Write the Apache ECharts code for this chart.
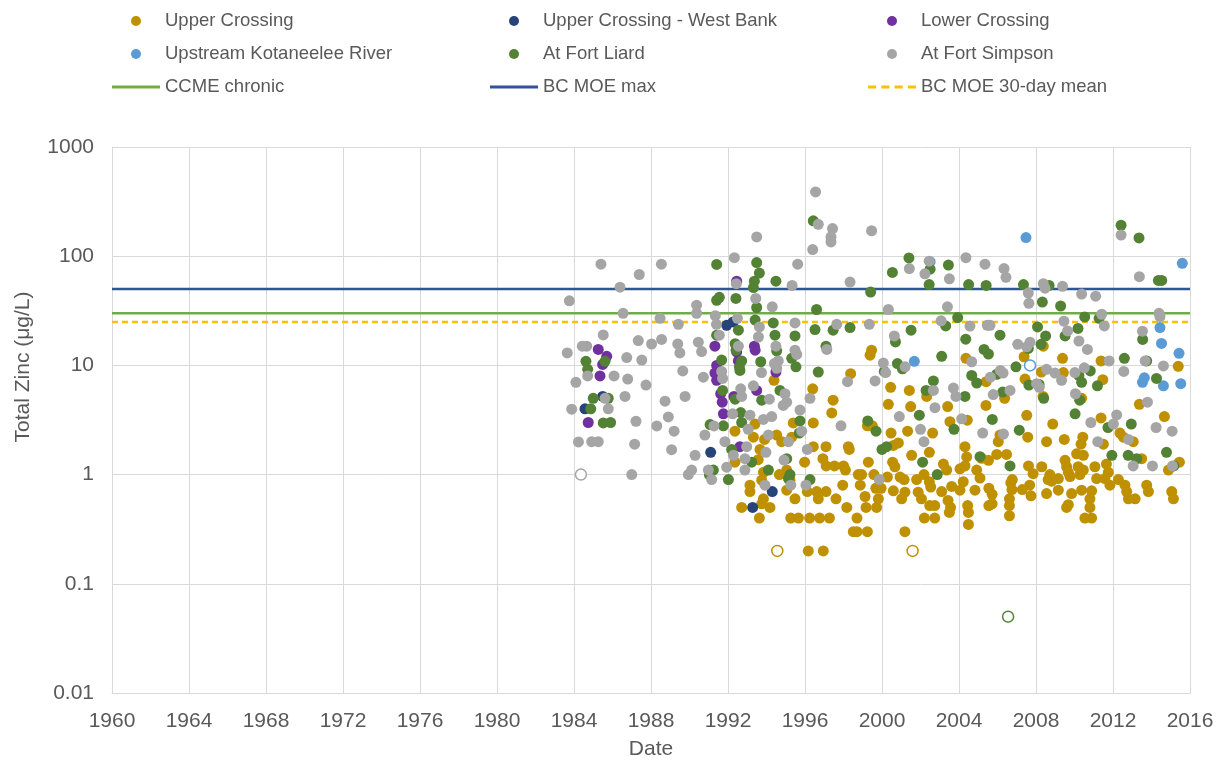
<!DOCTYPE html>
<html><head><meta charset="utf-8">
<script src="https://cdn.jsdelivr.net/npm/echarts@6/dist/echarts.min.js"></script>
<style>html,body{margin:0;padding:0;background:#fff}#c{width:1221px;height:760px}</style>
</head><body><div id="c"></div>
<script>
// ---- data: [year, total zinc µg/L] ----
const xTicks = [1960,1964,1968,1972,1976,1980,1984,1988,1992,1996,2000,2004,2008,2012,2016];
const yTicks = [0.01,0.1,1,10,100,1000];
const ccmeChronic = 30;
const bcMoeMax = 50;
const bcMoe30day = 25;

const upperCrossing = [
[1999.46,13.8],[1999.38,12.4],[1998.37,8.4],[1994.39,7.3],[1996.4,6.1],[1997.46,4.8],
[1997.39,3.67],[1996.43,2.97],[1995.39,2.97],[1993.4,2.9],[1992.36,2.5],[1993.32,2.2],[1994.53,2.3],[1994.79,2.0],[1995.31,2.2],[1993.9,2.1],[1996.43,1.8],[1997.09,1.8],[1998.25,1.8],[1998.3,1.7],[1995.98,1.3],[1996.93,1.4],[1997.1,1.2],[1997.53,1.2],[1998.0,1.2],[1998.1,1.1],[1999.29,1.3],[1998.77,1.0],[1998.94,1.0],[1999.58,1.0],[1993.66,1.7],[1993.57,1.37],[1992.36,1.3],[1995.05,1.1],[1994.67,1.0],[1995.22,0.89],[1995.05,0.72],[1995.48,0.6],[1993.84,1.05],[1993.75,0.89],[1993.14,0.8],[1993.14,0.7],[1993.84,0.6],[1993.75,0.54],[1994.18,0.5],[1992.71,0.5],[1993.63,0.4],[1995.26,0.4],[1995.66,0.4],[1996.24,0.4],[1996.76,0.4],[1997.27,0.4],[1996.12,0.7],[1996.61,0.7],[1997.09,0.7],[1996.69,0.6],[1997.61,0.6],[1998.17,0.5],[1997.96,0.8],[1998.7,0.4],[1998.51,0.3],[1998.7,0.3],[1999.24,0.3],[1998.87,0.8],[1999.12,0.63],[1999.17,0.5],[1999.72,0.5],[1999.81,0.6],[1999.68,0.75],[1999.24,2.8],[1999.5,2.8],[1996.17,0.2],[1996.95,0.2],
[2004.36,11.6],[2007.38,12],[2008.28,8.7],[2007.43,7.5],[2000.45,6.3],[2001.42,5.9],[2005.41,7.1],[2002.32,5.2],[2006.37,5.0],[2008.37,5.2],
[2000.33,4.4],[2001.49,4.2],[2003.41,4.2],[2005.4,4.3],[2007.52,3.49],[2003.53,3.05],[2004.43,3.15],[2000.47,2.4],[2001.33,2.5],[2002.63,2.4],[2000.59,1.85],[2000.85,1.95],[2001.54,1.5],[2002.46,1.6],[2004.31,1.8],[2004.4,1.45],[2006.04,2.0],[2006.13,2.3],[2007.57,2.2],[2008.55,2.0],[2000.55,1.3],[2000.67,1.18],[2005.18,1.41],[2005.53,1.35],[2005.96,1.53],[2006.47,1.53],[2007.61,1.2],[2008.3,1.18],[2003.19,1.25],[2003.36,1.1],[2004.05,1.13],[2004.31,1.2],[2004.92,1.1],[2005.09,0.93],[2000.28,0.95],[2000.94,0.95],[2001.15,0.9],[2001.8,0.9],[2002.18,1.0],[2002.46,0.86],[2002.53,0.77],[2003.1,0.7],[2003.62,0.78],[2004.05,0.72],[2004.22,0.86],[2004.83,0.72],[2005.55,0.75],[2005.72,0.66],[2006.69,0.84],[2006.77,0.9],[2007.67,0.8],[2007.85,1.02],[2007.29,0.73],[2007.74,0.64],[2008.55,0.67],[1999.95,0.75],[2000.59,0.71],[2001.02,0.6],[2001.19,0.69],[2001.88,0.69],[2002.05,0.6],[2002.48,0.52],[2002.74,0.52],[2002.2,0.4],[2002.74,0.4],[2003.43,0.58],[2003.56,0.5],[2003.5,0.45],[2004.45,0.52],[2004.49,0.45],[2004.49,0.35],[2005.72,0.54],[2005.55,0.52],[2006.62,0.6],[2006.62,0.52],[2006.62,0.42],[2006.75,0.73],[2001.19,0.3],
[2008.38,15],[2009.38,11.6],[2011.38,11],[2015.39,9.8],[2009.42,8.6],[2011.47,7.4],[2010.37,5.0],
[2013.37,4.4],[2014.67,3.4],[2008.87,2.9],[2011.38,3.3],[2009.47,2.1],[2010.43,2.2],[2010.34,1.9],[2012.36,2.4],[2012.54,2.2],[2013.05,2.0],[2011.5,1.9],[2013.49,1.4],[2015.45,1.3],[2014.88,1.1],[2010.11,1.55],[2010.46,1.5],[2009.51,1.35],[2009.59,1.18],[2009.68,1.05],[2008.72,1.0],[2008.63,0.9],[2009.16,0.92],[2009.16,0.72],[2010.19,1.18],[2010.28,1.0],[2009.77,0.96],[2010.46,1.1],[2011.06,1.18],[2011.66,1.25],[2011.76,1.05],[2011.15,0.92],[2011.58,0.92],[2011.84,0.8],[2012.28,0.9],[2012.62,0.8],[2012.71,0.7],[2012.8,0.6],[2013.15,0.6],[2013.75,0.8],[2013.84,0.7],[2015.05,0.7],[2015.14,0.6],[2010.89,0.71],[2010.37,0.72],[2009.85,0.67],[2010.8,0.6],[2009.68,0.53],[2009.59,0.5],[2010.8,0.5],[2010.54,0.4],[2010.89,0.4],[2008.81,0.87]
];
const upperCrossingBelowDL = [[1994.56,0.2],[2001.59,0.2]];

const upperCrossingWestBank = [[1991.93,23.3],[1992.27,25],[1985.49,5.2],[1984.57,4.0],[1991.1,1.6],[1994.3,0.7],[1993.28,0.5]];

const lowerCrossing = [
[1985.26,14],[1985.7,12.1],[1985.49,10.2],[1985.35,8.0],[1991.32,15],[1991.41,10],[1991.32,8.5],[1991.41,7.3],[1991.62,5.5],
[1984.74,3.0],[1991.7,4.6],[1991.76,3.6],
[1992.45,59],[1993.37,15],[1993.41,13.8],[1992.45,13.3],[1992.54,11],[1994.49,8.7],[1993.49,5.9],[1992.31,5.2],[1992.62,1.8]
];

const kotaneelee = [[2007.48,148],[2002.5,89],[2001.68,10.9],[2015.6,86],[2014.44,22.2],[2014.52,15.9],[2015.43,12.9],[2013.63,7.7],[2013.53,7.0],[2014.62,6.5],[2015.52,6.8]];
const kotaneeleeBelowDL = [[2007.69,10]];

const fortLiard = [
[1991.41,84],[1991.41,39.5],[1991.55,42],[1991.41,18.9],[1984.62,10.9],[1984.71,9.2],[1985.61,10.9],[1991.67,11.2],[1991.72,5.9],[1985.0,5.0],[1985.78,5.0],
[1984.87,4.0],[1985.52,2.97],[1985.9,3.0],[1991.07,2.87],[1991.76,2.8],[1991.24,1.1],[1991.03,1.0],[1992.02,0.9],
[1996.43,211],[1993.49,87.5],[1993.63,70],[1993.37,59],[1993.32,51.6],[1994.49,59],[1999.41,47],[1992.41,41],[1993.49,33.9],[1996.6,32.5],[1993.41,26],[1994.35,24.5],[1992.54,21],[1996.52,21.3],[1997.46,21],[1998.34,22.2],[1994.44,18.9],[1995.48,18.6],[1992.37,15.8],[1992.42,13.8],[1994.53,13.6],[1997.09,15],[1995.31,11.6],[1992.71,11],[1992.59,9.7],[1992.62,9.0],[1993.7,10.8],[1995.53,9.7],[1996.69,8.7],[2000.12,8.8],[1994.7,5.9],[1992.37,4.9],[1993.75,4.8],
[1999.26,3.1],[1999.69,2.5],[2000.0,1.7],[2000.24,1.8],[1995.74,3.1],[1995.7,2.4],[1994.1,1.1],[1995.14,0.92],[1995.22,1.0],[1996.26,0.9],[1992.66,3.7],[1992.71,3.0],[1993.23,1.3],[1992.19,1.7],[1995.05,1.4],
[2001.4,96.5],[2000.54,71],[2002.5,76],[2003.45,83],[2002.45,55],[2004.5,55],[2005.41,54],[2007.35,55],[2003.93,27.4],[2003.31,23],[2001.51,21],[2000.7,16.4],[2004.35,17.4],[2006.13,18.9],[2008.08,22.5],[2008.5,18.6],[2008.26,15.6],[2007.6,14.3],[2003.1,12.1],[2005.3,14],[2005.53,12.7],[2000.8,10.4],[2001.06,9.3],[2004.66,8.1],[2004.92,6.9],[2005.96,8.3],[2006.96,9.7],[2002.67,7.2],[2002.29,5.9],[2004.31,5.2],[2006.27,5.7],[2007.63,6.6],[2008.4,5.0],
[2001.94,3.5],[2005.73,3.2],[2003.74,2.6],[2007.13,2.55],[2002.11,1.3],[2002.87,1.0],[2005.09,1.46],[2006.65,1.2],
[2012.42,192],[2013.35,147],[2014.36,60],[2014.53,60],[2008.68,54],[2008.33,38],[2009.28,35],[2010.53,27.8],[2011.28,27],[2010.18,21.8],[2009.51,18.6],[2013.54,17.3],[2012.59,11.6],[2013.75,11],[2010.82,8.9],[2010.23,8.1],[2010.37,7.0],[2014.26,7.6],[2011.19,6.5],[2008.16,6.7],[2010.27,4.8],
[2010.03,3.6],[2011.74,2.7],[2012.95,2.9],[2011.94,1.5],[2012.79,1.5],[2013.23,1.4],[2014.78,1.6],[2015.16,1.2]
];
const fortLiardBelowDL = [[2006.55,0.05]];

const fortSimpson = [
[1985.4,84.5],[1988.54,84.5],[1987.39,68],[1986.39,52],[1983.76,39],[1986.55,30],[1988.47,27],[1990.37,35.6],[1990.37,30],[1991.34,28.5],[1989.42,23.8],[1991.4,23.8],[1991.55,18.9],[1985.52,19],[1987.34,16.9],[1988.03,15.7],[1988.55,17.3],[1984.43,15],[1984.66,15],[1989.39,15.7],[1989.5,13],[1990.46,16.3],[1990.63,13.4],[1983.65,13],[1986.74,11.8],[1987.52,11.2],[1984.1,7.0],[1984.71,8.0],[1986.08,8.0],[1986.79,7.5],[1987.74,6.6],[1989.65,8.9],[1990.72,7.8],[1991.67,8.8],[1991.72,7.6],[1989.77,5.2],[1988.73,4.7],[1986.65,5.2],[1985.61,5.0],
[1983.88,3.97],[1985.78,4.0],[1987.22,3.08],[1988.3,2.79],[1988.9,3.37],[1989.2,2.5],[1990.8,2.3],[1991.27,2.79],[1984.23,1.99],[1984.92,2.0],[1985.26,2.0],[1987.15,1.9],[1989.07,1.69],[1990.29,1.5],[1991.84,2.0],[1990.11,1.1],[1989.94,1.0],[1987.0,1.0],[1990.98,1.1],[1991.15,0.9],[1991.93,1.17],
[1996.55,388],[1996.69,196],[1997.43,179],[1997.35,150],[1997.35,135],[1996.4,115],[1999.46,171],[1993.49,150],[1992.33,97],[1995.62,84.5],[1992.43,56],[1995.33,54],[1998.34,58],[1993.44,41],[1994.3,34.4],[1992.49,27],[1993.63,22.5],[1993.58,18.2],[1995.48,24.5],[1997.65,23.8],[1999.34,23.8],[1992.54,15],[1994.49,15],[1995.48,13.8],[1995.57,12.6],[1997.13,14],[1994.61,11],[1994.41,10.4],[1994.53,9.4],[1993.74,8.6],[1993.32,6.5],[2000.07,10.5],[2000.19,8.6],[1999.64,7.2],[1998.21,7.1],[1992.66,6.1],[1992.71,5.2],[1994.15,4.9],[1994.96,5.5],[1996.26,5.0],[2000.33,32.5],
[1992.24,3.6],[1993.14,3.5],[1993.84,3.2],[1994.27,3.4],[1994.87,4.3],[1995.74,3.9],[1995.83,2.5],[1997.87,2.8],[1993.05,2.6],[1994.1,2.3],[1995.14,2.0],[1992.97,1.8],[1993.97,1.6],[1996.12,1.7],[1992.28,1.5],[1992.88,1.4],[1994.91,1.36],[1992.88,1.1],[1993.92,0.8],[1995.26,0.8],[1996.05,0.8],[1999.86,0.9],[1995.05,4.6],
[2004.36,97],[2002.45,90],[2001.42,77],[2002.23,69],[2003.5,62],[2005.35,84.5],[2006.34,77],[2006.44,64],[2008.38,56],[2008.47,51],[2007.6,46],[2007.63,37],[2003.4,34.4],[2003.07,25.6],[2004.57,22.9],[2005.47,23.3],[2005.61,23.3],[2000.64,18.6],[2007.05,15.6],[2007.69,16.3],[2007.52,14.8],[2001.2,9.7],[2004.66,10.8],[2005.63,7.8],[2006.15,9.0],[2006.29,8.5],[2008.55,9.2],[2008.03,6.8],[2008.17,6.3],[2003.71,6.2],[2003.84,5.2],[2002.67,5.9],[2005.78,5.4],[2006.65,5.9],
[2000.9,3.4],[2002.75,4.1],[2004.14,3.24],[2002.0,2.6],[2002.18,2.0],[2005.23,2.4],[2006.31,2.35],
[2012.42,156],[2013.37,65],[2009.38,53],[2010.37,45],[2011.1,43],[2011.41,29.4],[2011.55,23],[2009.45,25.4],[2009.64,20.7],[2014.39,30],[2014.44,28],[2013.53,20.6],[2010.23,16.7],[2010.67,14],[2011.8,11],[2013.67,11],[2012.56,8.8],[2014.62,9.9],[2008.99,8.5],[2009.33,7.3],[2010.02,8.6],[2010.51,9.5],[2010.05,5.5],
[2013.79,4.6],[2012.19,3.52],[2012.02,2.9],[2010.85,3.0],[2014.24,2.7],[2015.07,2.5],[2011.21,2.0],[2012.8,2.1],[2013.05,1.2],[2014.05,1.2],[2015.09,1.2]
];
const fortSimpsonBelowDL = [[1984.36,1.0]];

// ---- chart ----
const FONT = '"Liberation Sans", Arial, sans-serif';
const TXT = '#595959';
const GRIDC = '#d9d9d9';
const SOLID_ICON = 'path://M0,0H48V3H0Z';
const DASH_ICON = 'path://M0,0H8V3H0ZM13,0H21V3H13ZM26,0H34V3H26ZM39,0H47V3H39Z';

function pts(filled, hollow, color) {
  const out = filled.map(p => ({ value: p }));
  hollow.forEach(p => out.push({ value: p, itemStyle: { color: '#ffffff', borderColor: color, borderWidth: 1.5 } }));
  return out;
}
function scatter(name, filled, hollow, color) {
  return { name, type: 'scatter', symbol: 'circle', symbolSize: 11, z: 3,
    itemStyle: { color, opacity: 1 }, data: pts(filled, hollow, color), emphasis: { disabled: true } };
}
function hline(name, v, color, type) {
  return { name, type: 'line', symbol: 'none', silent: true, z: 2,
    lineStyle: { color, width: 2.5, type }, itemStyle: { color },
    data: [[xTicks[0], v], [xTicks[xTicks.length - 1], v]] };
}

const legendBase = { orient: 'vertical', top: 11, padding: 0, itemWidth: 48, itemHeight: 10, itemGap: 13,
  textStyle: { fontFamily: FONT, fontSize: 18.5, color: TXT, lineHeight: 20 }, selectedMode: false };

const option = {
  animation: false,
  backgroundColor: '#ffffff',
  textStyle: { fontFamily: FONT },
  legend: [
    Object.assign({}, legendBase, { left: 112, data: [{name:'Upper Crossing',icon:'circle'}, {name:'Upstream Kotaneelee River',icon:'circle'}, {name:'CCME chronic',icon:SOLID_ICON}] }),
    Object.assign({}, legendBase, { left: 490, data: [{name:'Upper Crossing - West Bank',icon:'circle'}, {name:'At Fort Liard',icon:'circle'}, {name:'BC MOE max',icon:SOLID_ICON}] }),
    Object.assign({}, legendBase, { left: 868, data: [{name:'Lower Crossing',icon:'circle'}, {name:'At Fort Simpson',icon:'circle'}, {name:'BC MOE 30-day mean',icon:DASH_ICON}] })
  ],
  graphic: [{
    type: 'text', x: 23, y: 367, rotation: Math.PI / 2, silent: true,
    style: { text: 'Total Zinc (μg/L)', font: '21px ' + FONT, fill: TXT, align: 'center', verticalAlign: 'middle' }
  }],
  grid: { left: 112, right: 31, top: 147, bottom: 67, containLabel: false, outerBoundsMode: 'none' },
  xAxis: {
    type: 'value', min: xTicks[0], max: xTicks[xTicks.length - 1], interval: 4,
    name: 'Date', nameLocation: 'middle', nameGap: 46,
    nameTextStyle: { fontSize: 21, color: TXT, fontFamily: FONT },
    axisLine: { show: true, lineStyle: { color: GRIDC, width: 1 } },
    axisTick: { show: false },
    axisLabel: { fontSize: 21, color: TXT, margin: 18, fontFamily: FONT, formatter: v => String(v) },
    splitLine: { show: true, lineStyle: { color: GRIDC, width: 1 } }
  },
  yAxis: {
    type: 'log', logBase: 10, min: yTicks[0], max: yTicks[yTicks.length - 1],
    axisLine: { show: true, lineStyle: { color: GRIDC, width: 1 } },
    axisTick: { show: false },
    axisLabel: { fontSize: 21, color: TXT, margin: 18, fontFamily: FONT,
      formatter: v => { const t = yTicks.find(k => Math.abs(Math.log10(k) - Math.log10(v)) < 1e-6); return t === undefined ? '' : String(t); } },
    splitLine: { show: true, lineStyle: { color: GRIDC, width: 1 } }
  },
  series: [
    hline('CCME chronic', ccmeChronic, '#70AD47', 'solid'),
    hline('BC MOE max', bcMoeMax, '#2F5597', 'solid'),
    hline('BC MOE 30-day mean', bcMoe30day, '#FFC000', [6, 4]),
    scatter('Upper Crossing', upperCrossing, upperCrossingBelowDL, '#BF9000'),
    scatter('Upper Crossing - West Bank', upperCrossingWestBank, [], '#264478'),
    scatter('Lower Crossing', lowerCrossing, [], '#7030A0'),
    scatter('Upstream Kotaneelee River', kotaneelee, kotaneeleeBelowDL, '#5B9BD5'),
    scatter('At Fort Liard', fortLiard, fortLiardBelowDL, '#548235'),
    scatter('At Fort Simpson', fortSimpson, fortSimpsonBelowDL, '#A5A5A5')
  ]
};
echarts.init(document.getElementById('c'), null, { renderer: 'canvas' }).setOption(option);
</script>
</body></html>
